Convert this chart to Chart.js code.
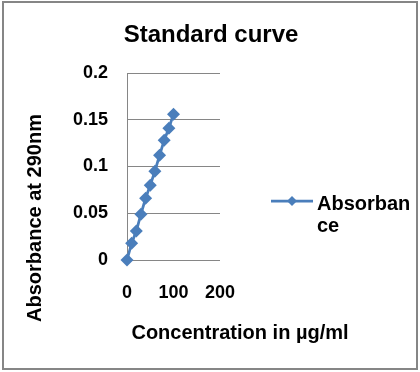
<!DOCTYPE html>
<html>
<head>
<meta charset="utf-8">
<script src="https://cdn.jsdelivr.net/npm/chart.js@4/dist/chart.umd.min.js"></script>
<style>
  html, body { margin: 0; padding: 0; background: #fff; }
  #wrap { position: relative; width: 420px; height: 372px; }
  #frame { position: absolute; left: 2px; top: 1px; width: 412px; height: 365px; border: 2px solid #868686; pointer-events: none; }
</style>
</head>
<body>
<div id="wrap">
  <canvas id="chart" width="420" height="372"></canvas>
  <div id="frame"></div>
</div>
<script>
// Data
const concentration = [0, 10, 20, 30, 40, 50, 60, 70, 80, 90, 100];
const absorbance = [0, 0.018, 0.031, 0.049, 0.066, 0.080, 0.095, 0.112, 0.128, 0.141, 0.156];
const seriesLabel = 'Absorbance';
const chartTitle = 'Standard curve';
const xTitle = 'Concentration in µg/ml';
const yTitle = 'Absorbance at 290nm';

const BLUE = '#4a7ebb';
const GREY = '#868686';
const FONT = "'Liberation Sans', Arial, sans-serif";

// Titles + legend drawn like Excel places them
const excelText = {
    id: 'excelText',
    afterDraw(chart) {
        const ctx = chart.ctx;
        ctx.save();
        ctx.fillStyle = '#000';
        ctx.textBaseline = 'alphabetic';

        // chart title
        ctx.font = 'bold 24px ' + FONT;
        ctx.textAlign = 'center';
        ctx.fillText(chartTitle, 211, 42);

        // x axis title
        ctx.font = 'bold 20px ' + FONT;
        ctx.fillText(xTitle, 240, 339);

        // y axis title (rotated)
        ctx.save();
        ctx.translate(41, 218);
        ctx.rotate(-Math.PI / 2);
        ctx.fillText(yTitle, 0, 0);
        ctx.restore();

        // legend: line sample with diamond, label wrapped like the original
        ctx.strokeStyle = BLUE;
        ctx.lineWidth = 2.75;
        ctx.beginPath();
        ctx.moveTo(271, 201);
        ctx.lineTo(313, 201);
        ctx.stroke();
        ctx.fillStyle = BLUE;
        Chart.helpers.drawPoint(ctx, { pointStyle: 'rectRot', radius: 5, borderWidth: 0 }, 292, 201);

        ctx.fillStyle = '#000';
        ctx.textAlign = 'left';
        ctx.font = 'bold 20px ' + FONT;
        ctx.fillText(seriesLabel.slice(0, 8), 317, 210);
        ctx.fillText(seriesLabel.slice(8), 317, 232);
        ctx.restore();
    }
};

new Chart(document.getElementById('chart'), {
    type: 'scatter',
    data: {
        datasets: [{
            label: seriesLabel,
            data: concentration.map((c, i) => ({ x: c, y: absorbance[i] })),
            showLine: true,
            clip: false,
            borderColor: BLUE,
            backgroundColor: BLUE,
            borderWidth: 2.75,
            pointStyle: 'rectRot',
            pointRadius: 6.5,
            pointBorderWidth: 0,
            tension: 0
        }]
    },
    options: {
        responsive: false,
        animation: false,
        devicePixelRatio: 1,
        layout: { padding: { top: 73, right: 200, left: 0, bottom: 0 } },
        plugins: {
            legend: { display: false },
            title: { display: false },
            tooltip: { enabled: false }
        },
        scales: {
            x: {
                type: 'linear',
                min: 0,
                max: 200,
                afterFit: (axis) => { axis.height = 112; },
                border: { display: false },
                grid: { display: false, drawTicks: false },
                ticks: {
                    stepSize: 100,
                    padding: 22,
                    maxRotation: 0,
                    color: '#000',
                    font: { family: FONT, size: 18, weight: 'bold' }
                }
            },
            y: {
                min: 0,
                max: 0.2,
                afterFit: (axis) => { axis.width = 127; },
                border: { display: true, color: GREY, width: 1 },
                grid: { color: GREY, lineWidth: 1, drawTicks: false },
                ticks: {
                    stepSize: 0.05,
                    padding: 19,
                    color: '#000',
                    font: { family: FONT, size: 18, weight: 'bold' },
                    callback: (v) => String(parseFloat(v.toFixed(2)))
                }
            }
        }
    },
    plugins: [excelText]
});
</script>
</body>
</html>
